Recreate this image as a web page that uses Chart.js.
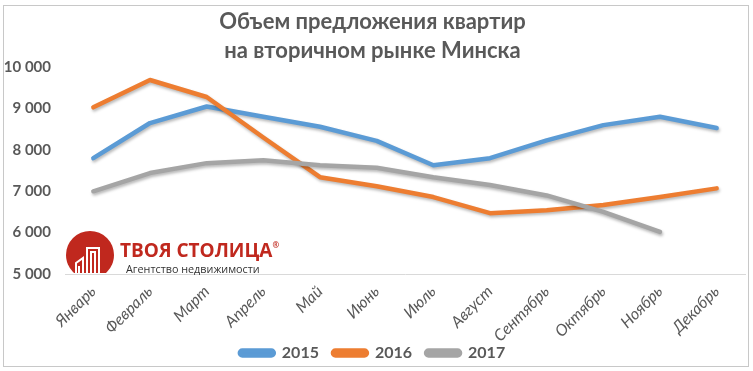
<!DOCTYPE html>
<html>
<head>
<meta charset="utf-8">
<script src="https://cdn.jsdelivr.net/npm/chart.js@4.4.1/dist/chart.umd.min.js"></script>
<style>
  html, body { margin: 0; padding: 0; background: #fff; }
  #wrap { position: relative; width: 753px; height: 371px; overflow: hidden; }
  #frame { position: absolute; left: 3px; top: 5px; width: 744px; height: 360px; border: 1px solid #c8c8c8; box-sizing: content-box; pointer-events: none; }
  canvas { position: absolute; left: 0; top: 0; }
  #logo { position: absolute; left: 66px; top: 230px; width: 220px; height: 44px; }
  #logo .t1 { position: absolute; left: 54px; top: 7px; font: bold 19px "Open Sans", sans-serif; color: #c0281e; letter-spacing: 0px; white-space: nowrap; }
  #logo .t1 sup { font-size: 8px; vertical-align: 9px; }
  #logo .t2 { position: absolute; left: 60px; top: 31px; font: 10.8px "Open Sans", sans-serif; color: #333; white-space: nowrap; }
</style>
</head>
<body>
<div id="wrap">
  <canvas id="c" width="753" height="371"></canvas>
  <div id="logo">
    <svg width="50" height="44" viewBox="0 0 50 44" style="position:absolute;left:0;top:0">
      <defs><clipPath id="cl"><rect x="0" y="0" width="50" height="43"/></clipPath></defs>
      <circle cx="24" cy="25" r="24" fill="#c0281e" clip-path="url(#cl)"/>
      <g stroke="#fff" stroke-width="2" fill="none">
        <polyline points="21,43 21,18 33,18 33,43"/>
        <polyline points="25,43 25,22 29,22 29,43"/>
        <polyline points="10,43 10,33 17,28 17,43"/>
        <polyline points="13,43 13,36"/>
      </g>
    </svg>
    <div class="t1">ТВОЯ СТОЛИЦА<sup>®</sup></div>
    <div class="t2">Агентство недвижимости</div>
  </div>
  <div id="frame"></div>
</div>
<script>
const months = ["Январь","Февраль","Март","Апрель","Май","Июнь","Июль","Август","Сентябрь","Октябрь","Ноябрь","Декабрь"];
const series2015 = [7800, 8650, 9050, 8800, 8560, 8220, 7630, 7800, 8230, 8600, 8800, 8530];
const series2016 = [9030, 9690, 9280, 8300, 7340, 7120, 6860, 6470, 6540, 6670, 6860, 7070];
const series2017 = [7000, 7440, 7680, 7750, 7630, 7570, 7340, 7150, 6900, 6500, 6020, null];
const yTicks = [5000, 6000, 7000, 8000, 9000, 10000];
const titleLines = ["Объем предложения квартир", "на вторичном рынке Минска"];
const seriesNames = ["2015", "2016", "2017"];

const textGray = "#595959";
const fontMain = "Lato, 'Open Sans', sans-serif";

const shadowPlugin = {
  id: 'lineShadow',
  beforeDatasetDraw(chart) {
    const ctx = chart.ctx;
    ctx.save();
    ctx.shadowColor = 'rgba(0,0,0,0.28)';
    ctx.shadowBlur = 3;
    ctx.shadowOffsetX = 1;
    ctx.shadowOffsetY = 2;
  },
  afterDatasetDraw(chart) { chart.ctx.restore(); }
};

function fmt(v) { return String(v).replace(/\B(?=(\d{3})+(?!\d))/g, " "); }

const mk = (label, data, color, order) => ({
  label, data, order,
  borderColor: color, backgroundColor: color,
  borderWidth: 4.5, pointRadius: 0, tension: 0,
  borderCapStyle: 'round', borderJoinStyle: 'round', spanGaps: false
});

new Chart(document.getElementById('c'), {
  type: 'line',
  data: {
    labels: months,
    datasets: [
      mk(seriesNames[0], series2015, "#5b9bd5", 2),
      mk(seriesNames[1], series2016, "#ed7d31", 1),
      mk(seriesNames[2], series2017, "#a5a5a5", 0)
    ]
  },
  plugins: [shadowPlugin],
  options: {
    responsive: false,
    animation: false,
    devicePixelRatio: 1,
    layout: { padding: { left: 0, right: 8, top: 2, bottom: 0 } },
    plugins: {
      tooltip: { enabled: false },
      title: {
        display: true,
        text: titleLines,
        color: textGray,
        font: { family: fontMain, size: 22, weight: 'bold', lineHeight: 1.3 },
        padding: { top: 6, bottom: 2 }
      },
      legend: {
        position: 'bottom',
        labels: {
          boxWidth: 34, boxHeight: 5,
          useBorderRadius: true, borderRadius: 2.5,
          color: textGray,
          font: { family: fontMain, size: 16, weight: 'bold' },
          padding: 14,
          sort: (a, b) => a.datasetIndex - b.datasetIndex
        }
      }
    },
    scales: {
      x: {
        offset: true,
        grid: { display: false, drawTicks: false },
        border: { display: true, color: "#d9d9d9", width: 1 },
        ticks: {
          color: textGray, maxRotation: 45, minRotation: 45, padding: 8,
          font: { family: fontMain, size: 16, style: 'italic' }
        },
        afterFit(s) { s.height = 57; s._computeLabelArea = () => undefined; }
      },
      y: {
        min: yTicks[0], max: yTicks[yTicks.length - 1],
        afterBuildTicks(s) { s.ticks = yTicks.map(v => ({ value: v })); },
        grid: { display: false, drawTicks: false },
        border: { display: false },
        ticks: {
          color: textGray, padding: 14,
          font: { family: fontMain, size: 15, weight: 'bold' },
          callback: v => fmt(v)
        },
        afterFit(s) { s.width = 65; }
      }
    }
  }
});
</script>
</body>
</html>
